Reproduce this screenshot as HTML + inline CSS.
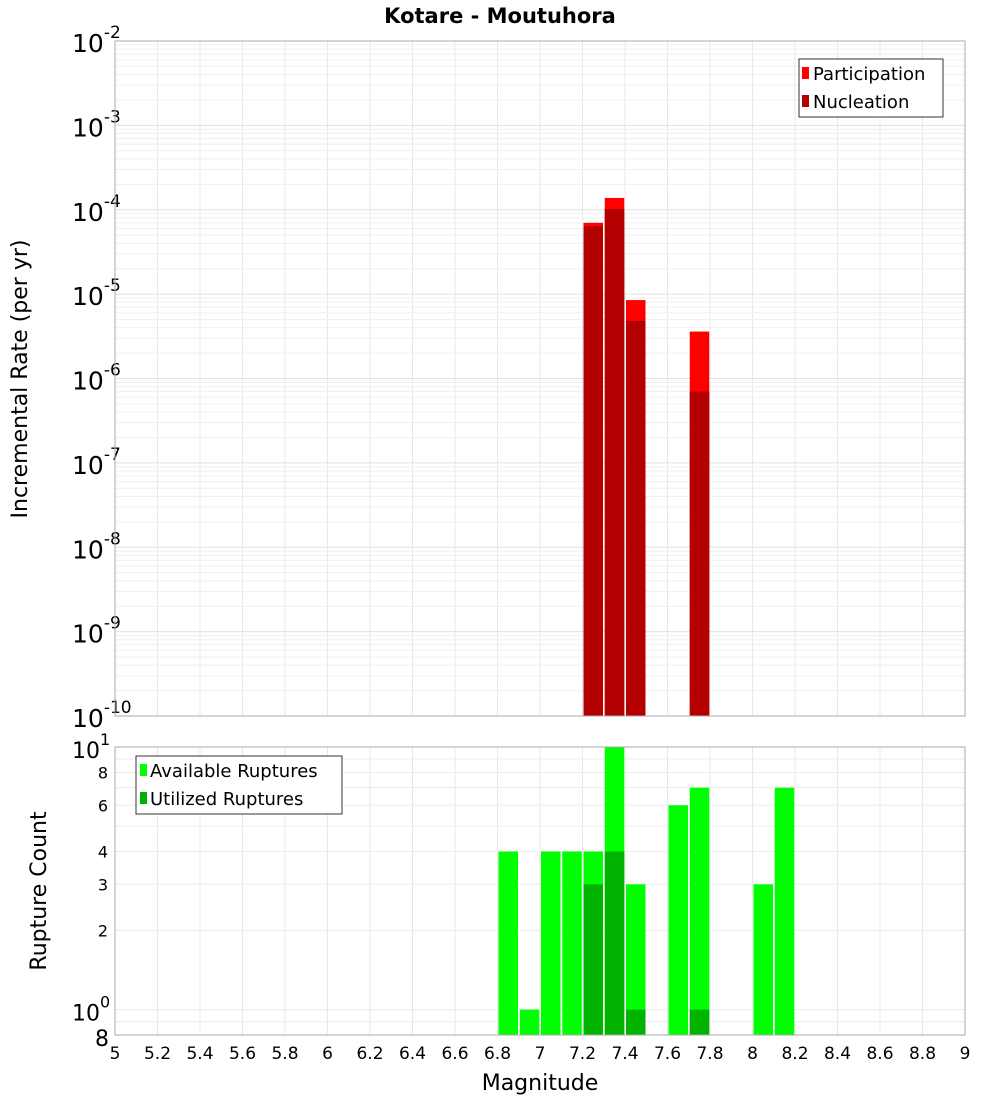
<!DOCTYPE html>
<html><head><meta charset="utf-8"><style>
body{margin:0;background:#fff;font-family:"Liberation Sans","DejaVu Sans",sans-serif}
svg text{font-family:"DejaVu Sans","Liberation Sans",sans-serif}
</style></head><body>
<svg id="c" width="1000" height="1100" xmlns="http://www.w3.org/2000/svg">
<text x="500" y="23" text-anchor="middle" font-size="21" font-weight="bold">Kotare - Moutuhora</text>
<text transform="translate(27,379) rotate(-90)" text-anchor="middle" font-size="22">Incremental Rate (per yr)</text>
<text transform="translate(46,891) rotate(-90)" text-anchor="middle" font-size="22">Rupture Count</text>
<text x="540" y="1090" text-anchor="middle" font-size="22">Magnitude</text>
<g id="grid"></g><g id="bars"></g><g id="labels"></g>
<rect x="115" y="41" width="850" height="675" fill="none" stroke="#aaa"/>
<rect x="115" y="747" width="850" height="288" fill="none" stroke="#aaa"/>
<g>
<rect x="799" y="59" width="144" height="58" fill="#fff" stroke="#333"/>
<rect x="802" y="67" width="7" height="12" fill="#ff0000"/>
<text x="813" y="80" font-size="18">Participation</text>
<rect x="802" y="95" width="7" height="12" fill="#b30000"/>
<text x="813" y="108" font-size="18">Nucleation</text>
</g>
<g>
<rect x="136" y="756" width="206" height="58" fill="#fff" stroke="#333"/>
<rect x="140" y="764" width="7" height="12" fill="#00ff00"/>
<text x="150" y="777" font-size="18">Available Ruptures</text>
<rect x="140" y="792" width="7" height="12" fill="#00b300"/>
<text x="150" y="805" font-size="18">Utilized Ruptures</text>
</g>
</svg>
<script>
const mags=[7.25,7.35,7.45,7.75];
const participation=[7e-5,1.38e-4,8.5e-6,3.6e-6];
const nucleation=[6.4e-5,1.02e-4,4.8e-6,7e-7];
const countMags=[6.85,6.95,7.05,7.15,7.25,7.35,7.45,7.65,7.75,8.05,8.15];
const available=[4,1,4,4,4,10,3,6,7,3,7];
const utilMags=[7.25,7.35,7.45,7.75];
const utilized=[3,4,1,1];
const xTicks=[5,5.2,5.4,5.6,5.8,6,6.2,6.4,6.6,6.8,7,7.2,7.4,7.6,7.8,8,8.2,8.4,8.6,8.8,9];
const topExps=[-2,-3,-4,-5,-6,-7,-8,-9,-10];
const botTicks=[8,6,4,3,2];
const NS="http://www.w3.org/2000/svg";
const X=m=>115+(m-5)*212.5;
const YT=v=>41+(-2-Math.log10(v))*84.375;
const YB=v=>747+(1-Math.log10(v))*262.6;
function el(p,t,a){const e=document.createElementNS(NS,t);for(const k in a)e.setAttribute(k,a[k]);p.appendChild(e);return e;}
const g=document.getElementById('grid'),b=document.getElementById('bars'),L=document.getElementById('labels');
xTicks.forEach(m=>{
 const x=X(m);
 let l=el(g,'line',{x1:x,x2:x,y1:41,y2:716,stroke:'#e8e8e8'});
 
 l=el(g,'line',{x1:x,x2:x,y1:747,y2:1035,stroke:'#e8e8e8'});
 
 const t=el(L,'text',{x:x,y:1059,'text-anchor':'middle','font-size':17});
 t.textContent=String(m);
 
});
for(let e=-10;e<-2;e++)for(let k=1;k<10;k++){
 const y=YT(k*Math.pow(10,e));
 const l=el(g,'line',{x1:115,x2:965,y1:y,y2:y,stroke:k==1?'#e0e0e0':'#efefef'});
 
}
for(let v of [0.8,0.9,1,2,3,4,5,6,7,8,9,10]){
 const y=YB(v);
 const l=el(g,'line',{x1:115,x2:965,y1:y,y2:y,stroke:'#ececec'});
 
}
topExps.forEach(e=>{
 const y=YT(Math.pow(10,e));
 const t=el(L,'text',{x:72,y:y+11,'font-size':25});
 t.textContent='10';
 const s=el(t,'tspan',{dy:-14,'font-size':17});s.textContent=String(e);
 
});
[[10,'10','1'],[1,'10','0'],[0.8,'8','']].forEach(([v,a,p])=>{
 const y=YB(v);
 const t=el(L,'text',{x:p?72:95,y:y+11,'font-size':22});
 t.textContent=a;
 if(p){const s=el(t,'tspan',{dy:-13,'font-size':16});s.textContent=p;}
 
});
botTicks.forEach(v=>{
 const t=el(L,'text',{x:108,y:YB(v)+6,'font-size':16,'text-anchor':'end'});
 t.textContent=String(v);
 
});
function bar(m,v,Y,base,fill,name){
 const x=X(m-0.05)+1,y=Y(v);
 const r=el(b,'rect',{x:x,y:y,width:19.5,height:base-y,fill:fill});
 
}
mags.forEach((m,i)=>bar(m,participation[i],YT,716,'#ff0000','participation-bar'));
mags.forEach((m,i)=>bar(m,nucleation[i],YT,716,'#b30000','nucleation-bar'));
countMags.forEach((m,i)=>bar(m,available[i],YB,1035,'#00ff00','available-ruptures-bar'));
utilMags.forEach((m,i)=>bar(m,utilized[i],YB,1035,'#00b300','utilized-ruptures-bar'));
</script>
</body></html>
